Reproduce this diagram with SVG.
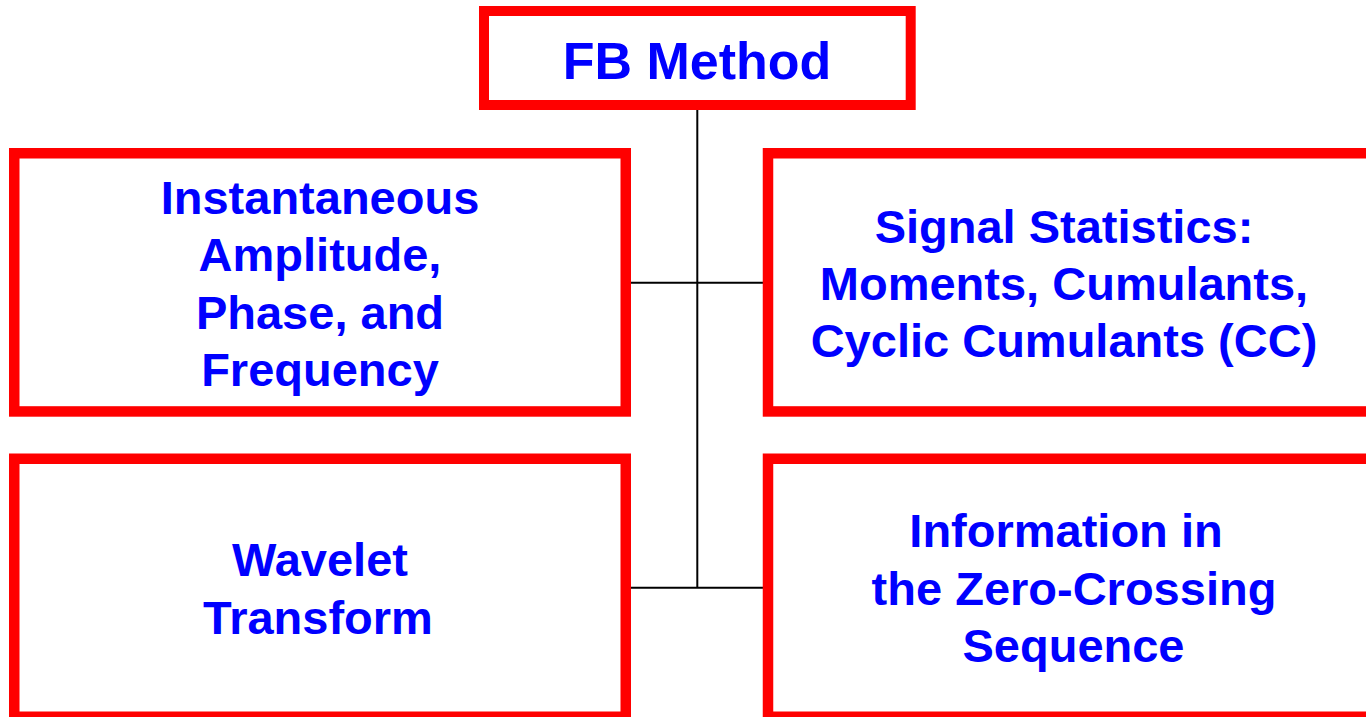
<svg xmlns="http://www.w3.org/2000/svg" width="1366" height="717" viewBox="0 0 1366 717">
<style>
.box{fill:#ffffff;stroke:#ff0000;stroke-width:10.5}
.t{font-family:"Liberation Sans",Arial,sans-serif;font-weight:bold;fill:#0000ff;text-anchor:middle;font-size:47px}
.big{font-size:52px}
.conn{stroke:#000000;stroke-width:2;fill:none}
</style>
<rect width="1366" height="717" fill="#ffffff"/>
<g id="connectors">
<line class="conn" x1="697.3" y1="110" x2="697.3" y2="588"/>
<line class="conn" x1="631" y1="282.7" x2="763" y2="282.7"/>
<line class="conn" x1="631" y1="587.7" x2="763" y2="587.7"/>
</g>
<g id="fb-method">
<rect class="box" x="484" y="11" width="426.7" height="94" style="stroke-width:10"/>
<text class="t big" x="697" y="79">FB Method</text>
</g>
<g id="instantaneous">
<rect class="box" x="14.25" y="153.25" width="611.5" height="258.2"/>
<text class="t" x="320" y="213.5">Instantaneous</text>
<text class="t" x="320" y="271">Amplitude,</text>
<text class="t" x="320" y="328.5">Phase, and</text>
<text class="t" x="320" y="386">Frequency</text>
</g>
<g id="signal-statistics">
<rect class="box" x="768" y="153.25" width="620" height="258.2"/>
<text class="t" x="1064" y="243">Signal Statistics:</text>
<text class="t" x="1064" y="300">Moments, Cumulants,</text>
<text class="t" x="1064" y="357">Cyclic Cumulants (CC)</text>
</g>
<g id="wavelet">
<rect class="box" x="14.25" y="458.75" width="611.5" height="258"/>
<text class="t" x="320" y="576">Wavelet</text>
<text class="t" x="318" y="633.5">Transform</text>
</g>
<g id="zero-crossing">
<rect class="box" x="768" y="458.75" width="620" height="258"/>
<text class="t" x="1066" y="547">Information in</text>
<text class="t" x="1074" y="605">the Zero-Crossing</text>
<text class="t" x="1073.5" y="662">Sequence</text>
</g>
</svg>
